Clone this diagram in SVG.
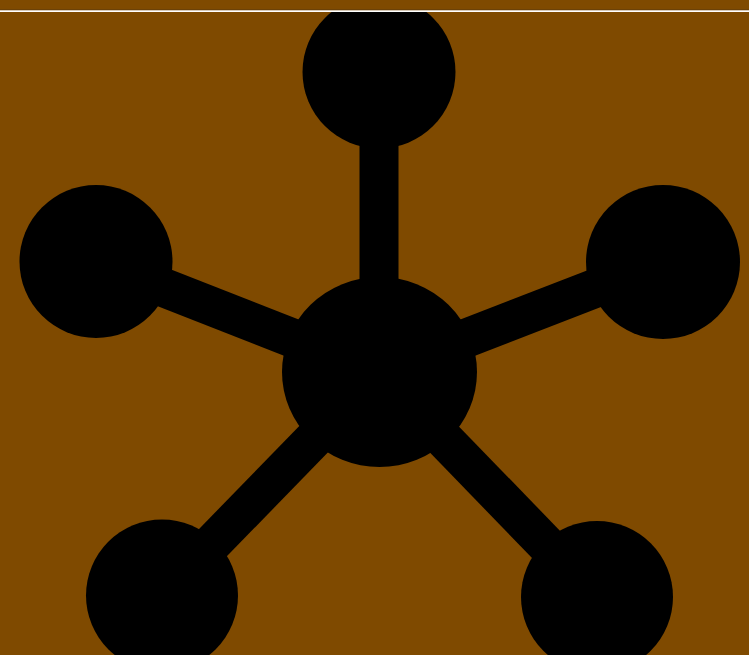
<svg xmlns="http://www.w3.org/2000/svg" width="749" height="655" viewBox="0 0 749 655">
<defs>
<style>
.edge{stroke:#000;stroke-width:39;fill:none}
.node{fill:#000}
</style>
<clipPath id="c"><rect x="0" y="12" width="749" height="643"/></clipPath>
</defs>
<rect x="0" y="0" width="749" height="655" fill="#7f4a00"/>
<rect x="0" y="9.5" width="749" height="0.8" fill="#5a3a10"/>
<rect x="0" y="10.3" width="749" height="1.7" fill="#ffffff"/>
<g clip-path="url(#c)">
<g id="connectors">
<line class="edge" x1="379" y1="372" x2="379" y2="72"/>
<line class="edge" x1="379" y1="372" x2="96" y2="261"/>
<line class="edge" x1="379" y1="372" x2="663" y2="262"/>
<line class="edge" x1="379" y1="372" x2="162" y2="595"/>
<line class="edge" x1="379" y1="372" x2="597" y2="597"/>
</g>
<g id="n0"><ellipse class="node" cx="379.5" cy="372" rx="97.5" ry="95"/></g>
<g id="n1"><circle class="node" cx="379" cy="72" r="76.5"/></g>
<g id="n2"><circle class="node" cx="96" cy="261.5" r="76.5"/></g>
<g id="n3"><circle class="node" cx="663" cy="262" r="77"/></g>
<g id="n4"><circle class="node" cx="162" cy="595.5" r="76"/></g>
<g id="n5"><circle class="node" cx="597" cy="597" r="76"/></g>
</g>
</svg>
